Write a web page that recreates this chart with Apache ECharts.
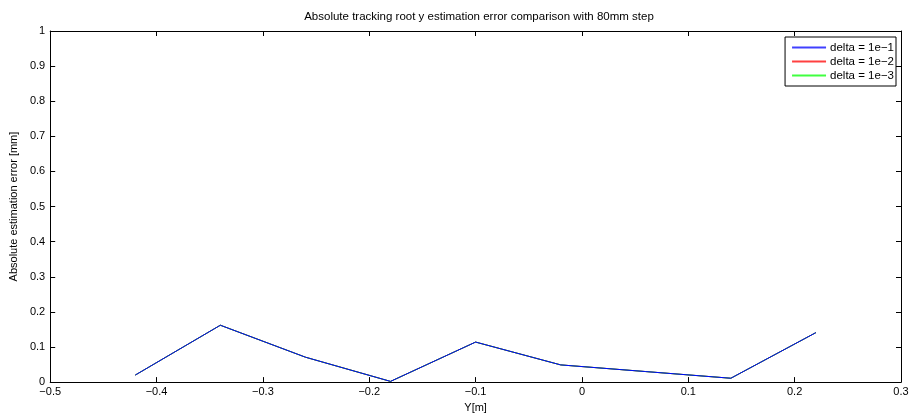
<!DOCTYPE html>
<html><head><meta charset="utf-8">
<script src="https://cdn.jsdelivr.net/npm/echarts@6/dist/echarts.min.js"></script>
<style>html,body{margin:0;padding:0;background:#fff}#c{width:912px;height:418px}</style>
</head><body><div id="c"></div>
<script>
const xValues = [-0.42, -0.34, -0.26, -0.18, -0.10, -0.02, 0.06, 0.14, 0.22];
const delta1 = [0.020, 0.162, 0.071, 0.002, 0.114, 0.049, 0.030, 0.011, 0.141];
const delta2 = [0.020, 0.162, 0.071, 0.002, 0.114, 0.049, 0.030, 0.011, 0.141];
const delta3 = [0.020, 0.162, 0.071, 0.002, 0.114, 0.049, 0.030, 0.011, 0.141];
const seriesNames = ['delta = 1e\u22121', 'delta = 1e\u22122', 'delta = 1e\u22123'];
const seriesColors = ['#0000ff', '#ff0000', '#00ff00'];
const titleText = 'Absolute tracking root y estimation error comparison with 80mm step';

const FONT = 'Liberation Sans, Arial, sans-serif';
const fmt = v => { const r = Math.round(v * 10) / 10; return String(r).replace('-', '\u2212'); };
const pairs = arr => xValues.map((x, i) => [x, arr[i]]);
const axisCommon = {
  axisLine: { show: true, onZero: false, lineStyle: { color: '#000', width: 1 } },
  axisTick: { show: true, inside: true, length: 5, lineStyle: { color: '#000' } },
  splitLine: { show: false }
};
const GL = 47, GR = 11;
const chart = echarts.init(document.getElementById('c'), null, { renderer: 'canvas' });
chart.setOption({
  animation: false,
  backgroundColor: '#fff',
  title: { text: titleText, left: GL + (912 - GL - GR) / 2, textAlign: 'center', top: 6,
    textStyle: { fontFamily: FONT, fontSize: 11.5, fontWeight: 'normal', color: '#000' } },
  grid: { left: GL, right: GR, top: 31, bottom: 31 },
  legend: {
    data: seriesNames.map((n, i) => ({ name: n, icon: 'rect',
      itemStyle: { color: seriesColors[i], borderWidth: 0, opacity: 0.75 } })),
    orient: 'vertical', right: 16, top: 37,
    backgroundColor: '#fff', borderColor: '#000', borderWidth: 1, borderRadius: 0,
    padding: [4, 2, 4, 7], itemGap: 1, itemWidth: 34, itemHeight: 2,
    textStyle: { fontFamily: FONT, fontSize: 11.5, lineHeight: 13, color: '#000', padding: [0, 0, 0, -1] }
  },
  xAxis: [
    Object.assign({ type: 'value', min: -0.5, max: 0.3, interval: 0.1, position: 'bottom',
      name: 'Y[m]', nameLocation: 'middle', nameGap: 16,
      nameTextStyle: { fontFamily: FONT, fontSize: 11, color: '#000' },
      axisLabel: { formatter: fmt, fontFamily: FONT, fontSize: 11, color: '#000', margin: 4 } }, axisCommon),
    Object.assign({ type: 'value', min: -0.5, max: 0.3, interval: 0.1, position: 'top',
      axisLabel: { show: false } }, axisCommon)
  ],
  yAxis: [
    Object.assign({ type: 'value', min: 0, max: 1, interval: 0.1, position: 'left',
      name: 'Absolute estimation error [mm]', nameLocation: 'middle', nameGap: 31,
      nameTextStyle: { fontFamily: FONT, fontSize: 11, color: '#000' },
      axisLabel: { formatter: fmt, fontFamily: FONT, fontSize: 11, color: '#000', margin: 5 } }, axisCommon),
    Object.assign({ type: 'value', min: 0, max: 1, interval: 0.1, position: 'right',
      axisLabel: { show: false } }, axisCommon)
  ],
  series: [
    { name: seriesNames[0], type: 'line', data: pairs(delta1), showSymbol: false, symbol: 'none', z: 5,
      lineStyle: { color: seriesColors[0], width: 1 }, itemStyle: { color: seriesColors[0] } },
    { name: seriesNames[1], type: 'line', data: pairs(delta2), showSymbol: false, symbol: 'none', z: 3,
      lineStyle: { color: seriesColors[1], width: 1 }, itemStyle: { color: seriesColors[1] } },
    { name: seriesNames[2], type: 'line', data: pairs(delta3), showSymbol: false, symbol: 'none', z: 4,
      lineStyle: { color: seriesColors[2], width: 1 }, itemStyle: { color: seriesColors[2] } }
  ]
});
</script></body></html>
